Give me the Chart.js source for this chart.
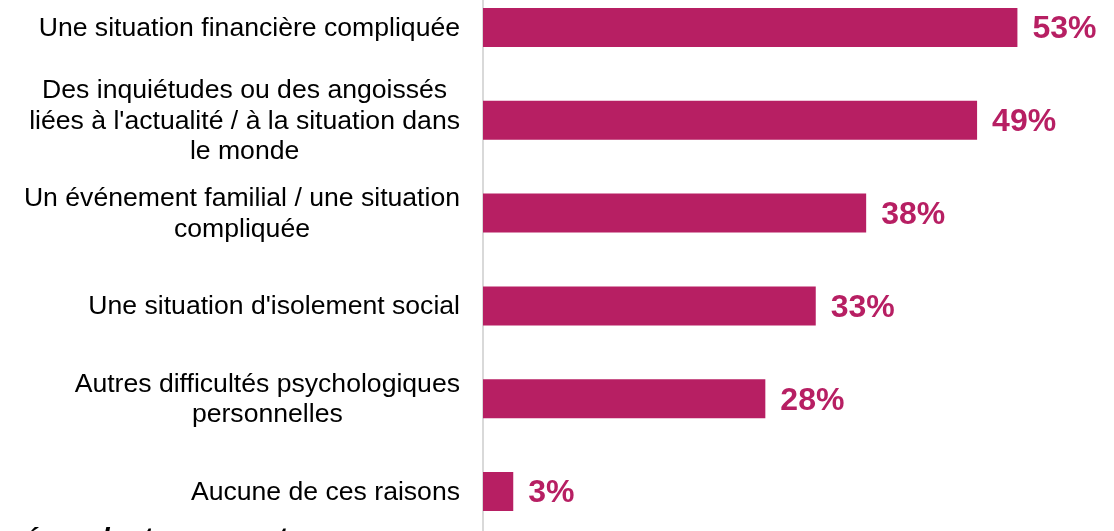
<!DOCTYPE html>
<html>
<head>
<meta charset="utf-8">
<script src="https://cdn.jsdelivr.net/npm/chart.js@4.4.1/dist/chart.umd.min.js"></script>
<style>
    html, body { margin: 0; padding: 0; background: #fff; overflow: hidden; }
    body { width: 1114px; height: 531px; position: relative; font-family: 'Liberation Sans', Arial, sans-serif; }
    /* le graphique déborde un peu en haut et en bas, comme sur l'original */
    .chart-wrap { position: absolute; left: 0; top: -19px; width: 1114px; height: 557px; }
    .note { position: absolute; left: 13px; top: 523px; font-size: 28.5px; line-height: 28px; font-weight: bold; font-style: italic; color: #000; white-space: nowrap; }
</style>
</head>
<body>
<div class="chart-wrap"><canvas id="mainChart"></canvas></div>
<div class="note">répondants pouvant</div>
<script>
const categories = [
    ['Une situation financière compliquée'],
    ['Des inquiétudes ou des angoissés', 'liées à l\'actualité / à la situation dans', 'le monde'],
    ['Un événement familial / une situation', 'compliquée'],
    ['Une situation d\'isolement social'],
    ['Autres difficultés psychologiques', 'personnelles'],
    ['Aucune de ces raisons']
];
const values = [53, 49, 38, 33, 28, 3];
const valueLabels = ['53%', '49%', '38%', '33%', '28%', '3%'];

const barColor = '#b71f63';
const labelFont = '26.6px "Liberation Sans", Arial, sans-serif';
const labelLineHeight = 30.5;

// libellés des catégories : bloc aligné à droite, lignes centrées dans le bloc
const categoryLabelPlugin = {
    id: 'categoryLabels',
    afterDraw(chart) {
        const ctx = chart.ctx;
        const yScale = chart.scales.y;
        const rightX = yScale.right - 23;
        ctx.save();
        ctx.font = labelFont;
        ctx.fillStyle = '#000';
        ctx.textAlign = 'center';
        ctx.textBaseline = 'middle';
        categories.forEach((lines, i) => {
            const y = yScale.getPixelForTick(i) + 1;
            const blockW = Math.max(...lines.map(l => ctx.measureText(l).width));
            const cx = rightX - blockW / 2;
            const y0 = y - (lines.length - 1) * labelLineHeight / 2;
            lines.forEach((line, j) => ctx.fillText(line, cx, y0 + j * labelLineHeight));
        });
        ctx.restore();
    }
};

// étiquettes de valeur à droite des barres
const valueLabelPlugin = {
    id: 'valueLabels',
    afterDatasetsDraw(chart) {
        const ctx = chart.ctx;
        const meta = chart.getDatasetMeta(0);
        ctx.save();
        ctx.font = 'bold 32px "Liberation Sans", Arial, sans-serif';
        ctx.fillStyle = barColor;
        ctx.textAlign = 'left';
        ctx.textBaseline = 'middle';
        meta.data.forEach((bar, i) => {
            ctx.fillText(valueLabels[i], bar.x + 15, bar.y + 2);
        });
        ctx.restore();
    }
};

new Chart(document.getElementById('mainChart'), {
    type: 'bar',
    data: {
        labels: categories.map(l => l.join(' ')),
        datasets: [{
            data: values,
            backgroundColor: barColor,
            borderWidth: 0,
            categoryPercentage: 1,
            barPercentage: 0.42
        }]
    },
    options: {
        indexAxis: 'y',
        responsive: true,
        maintainAspectRatio: false,
        animation: false,
        layout: { padding: { left: 0, right: 26, top: 0, bottom: 0 } },
        plugins: {
            legend: { display: false },
            tooltip: { enabled: false }
        },
        scales: {
            x: {
                display: false,
                min: 0,
                max: 60
            },
            y: {
                afterFit: (scale) => {
                    scale.width = 483;
                    scale.paddingTop = 0;
                    scale.paddingBottom = 0;
                },
                grid: { display: false, drawTicks: false },
                border: { display: true, color: '#d9d9d9', width: 2 },
                ticks: { display: false, autoSkip: false }
            }
        }
    },
    plugins: [valueLabelPlugin, categoryLabelPlugin]
});
</script>
</body>
</html>
